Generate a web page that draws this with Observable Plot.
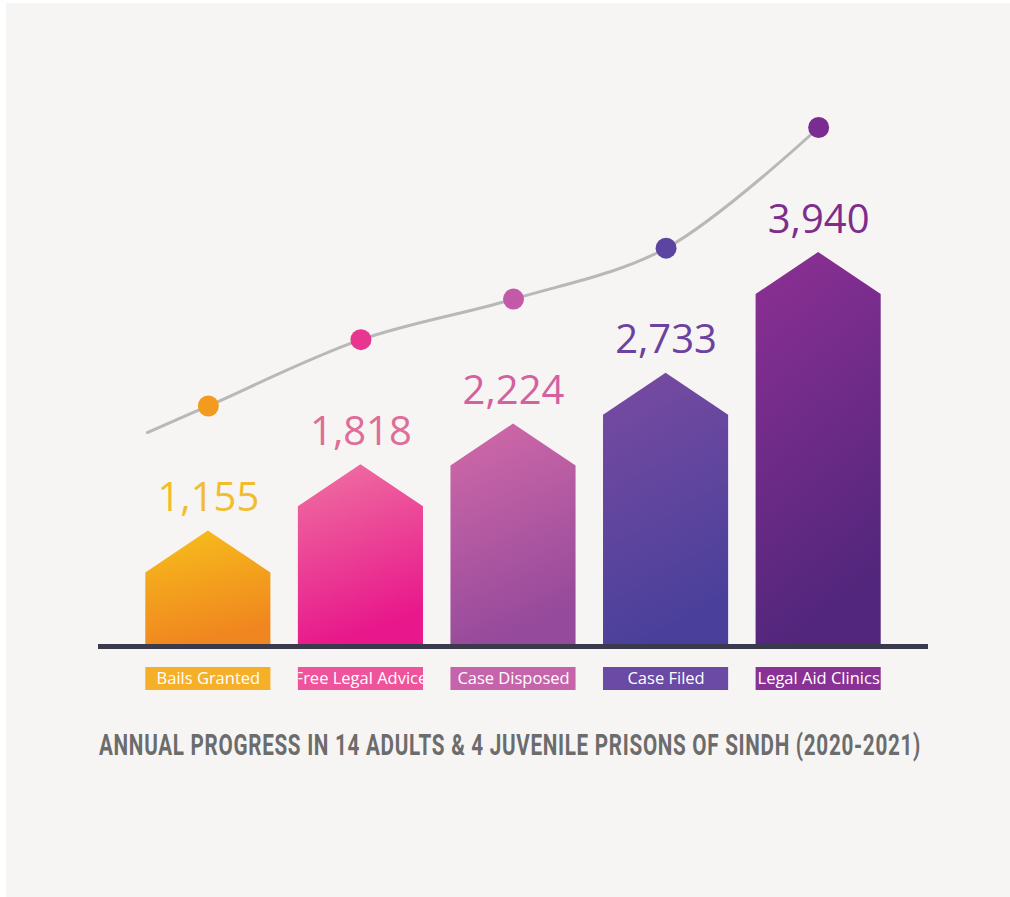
<!DOCTYPE html>
<html>
<head>
<meta charset="utf-8">
<script src="https://cdn.jsdelivr.net/npm/d3@7"></script>
<script src="https://cdn.jsdelivr.net/npm/@observablehq/plot@0.6"></script>
<style>
  html, body { margin: 0; padding: 0; background: #ffffff; }
  #wrap { position: relative; width: 1010px; height: 897px; overflow: hidden; background: #ffffff; }
  #panel { position: absolute; left: 6px; top: 3px; width: 1004px; height: 894px; background: #f6f5f4; }
  #chart { position: absolute; left: 0; top: 0; }
  #legend { position: absolute; left: 0; top: 667px; }
  #title { position: absolute; left: 0; top: 731px; width: 1010px; height: 30px; line-height: 29.5px; }
  #titleText { position: absolute; left: 99px; top: 0; white-space: nowrap; font-family: Roboto, "Liberation Sans", sans-serif; font-weight: 700; font-size: 29.5px; color: #6c6c6c; letter-spacing: 1px; transform-origin: 0 50%; }
</style>
</head>
<body>
<div id="wrap">
  <div id="panel"></div>
  <div id="chart"></div>
  <div id="legend"></div>
  <div id="title"><span id="titleText">ANNUAL PROGRESS IN 14 ADULTS &amp; 4 JUVENILE PRISONS OF SINDH (2020-2021)</span></div>
</div>
<script>
// ---- data ----
const categories = ["Bails Granted", "Free Legal Advice", "Case Disposed", "Case Filed", "Legal Aid Clinics"];
const values = [1155, 1818, 2224, 2733, 3940];

// ---- styles ----
const barTop = ["#f7bf1c", "#ef72a2", "#d26aa9", "#7a4ba1", "#8d3094"];
const barBottom = ["#f0861f", "#e8178b", "#964a9b", "#4a409b", "#52267c"];
const dotColors = ["#f39b1f", "#e8358f", "#c25aa8", "#5b45a1", "#7b2c90"];
const labelColors = ["#f2bd2c", "#e06c98", "#d3619f", "#6c42a0", "#7e2d8c"];
const legendColors = ["#f5af28", "#ee539b", "#c564ab", "#6b4aa5", "#893194"];

const rows = categories.map((c, i) => ({ i, category: c, value: values[i] }));
const fmt = d3.format(",");
const hw = 0.41;      // half bar width (index units)
const roof = 420;     // roof height (value units)
const dotLift = -125; // pixel lift of the trend line above bar tops

const xDomain = [-0.72, 4.72];
const common = { width: 1010, marginLeft: 98, marginRight: 82 };

const linePts = [
  { x: -0.4, y: values[0] - 0.4 * (values[1] - values[0]) },
  ...rows.map(r => ({ x: r.i, y: r.value }))
];

const chart = Plot.plot({
  ...common,
  height: 660,
  marginTop: 96,
  marginBottom: 14,
  x: { domain: xDomain, axis: null },
  y: { domain: [0, 5500], axis: null },
  color: { type: "identity" },
  style: { background: "none", overflow: "visible" },
  marks: [
    ...rows.map(r => Plot.areaY(
      [
        { x: r.i - hw, y: r.value - roof },
        { x: r.i, y: r.value },
        { x: r.i + hw, y: r.value - roof }
      ],
      { x: "x", y: "y", fill: `url(#barGrad${r.i})`, curve: "linear" }
    )),
    Plot.ruleY([0], { stroke: "#3b3a4c", strokeWidth: 5 }),
    Plot.line(linePts, { x: "x", y: "y", dy: dotLift, stroke: "#b8b8b8", strokeWidth: 3, curve: "catmull-rom" }),
    Plot.dot(rows, { x: "i", y: "value", dy: dotLift, r: 10.5, fill: d => dotColors[d.i], stroke: "none" }),
    Plot.text(rows, {
      x: "i", y: "value", dy: -20, text: d => fmt(d.value), lineAnchor: "bottom",
      fontSize: 40, fontFamily: "Open Sans, sans-serif", fontWeight: 400,
      fill: d => labelColors[d.i]
    })
  ]
});

// gradients for the bars
const csvg = d3.select(chart.tagName.toLowerCase() === "svg" ? chart : chart.querySelector("svg"));
const defs = csvg.insert("defs", ":first-child");
rows.forEach(r => {
  const g = defs.append("linearGradient").attr("id", `barGrad${r.i}`)
    .attr("x1", 0).attr("y1", 0).attr("x2", 0.25).attr("y2", 1);
  g.append("stop").attr("offset", "0%").attr("stop-color", barTop[r.i]);
  g.append("stop").attr("offset", "100%").attr("stop-color", barBottom[r.i]);
});
document.getElementById("chart").appendChild(chart);

// legend boxes below the baseline
const legend = Plot.plot({
  ...common,
  height: 23,
  marginTop: 0,
  marginBottom: 0,
  x: { domain: xDomain, axis: null },
  color: { type: "identity" },
  style: { background: "none", overflow: "visible" },
  marks: [
    Plot.rect(rows, { x1: d => d.i - hw, x2: d => d.i + hw, fill: d => legendColors[d.i] }),
    Plot.text(rows, { x: "i", text: "category", fill: "#ffffff", fontSize: 16.5, fontFamily: "Open Sans, sans-serif", frameAnchor: "middle" })
  ]
});
const lsvg = d3.select(legend.tagName.toLowerCase() === "svg" ? legend : legend.querySelector("svg"));
const rectNodes = lsvg.selectAll("g[aria-label='rect'] rect").nodes();
const textNodes = lsvg.selectAll("g[aria-label='text'] text").nodes();
const ldefs = lsvg.insert("defs", ":first-child");
rectNodes.forEach((rn, k) => {
  const id = "legClip" + k;
  ldefs.append("clipPath").attr("id", id).append("rect")
    .attr("x", rn.getAttribute("x")).attr("y", rn.getAttribute("y"))
    .attr("width", rn.getAttribute("width")).attr("height", rn.getAttribute("height"));
  const tn = textNodes[k];
  if (tn) {
    const g = document.createElementNS("http://www.w3.org/2000/svg", "g");
    tn.parentNode.insertBefore(g, tn);
    g.appendChild(tn);
    g.setAttribute("clip-path", `url(#${id})`);
  }
});
document.getElementById("legend").appendChild(legend);

// fit the title width
const tt = document.getElementById("titleText");
const tw = tt.getBoundingClientRect().width;
tt.style.transform = `scaleX(${822 / tw})`;
</script>
</body>
</html>
